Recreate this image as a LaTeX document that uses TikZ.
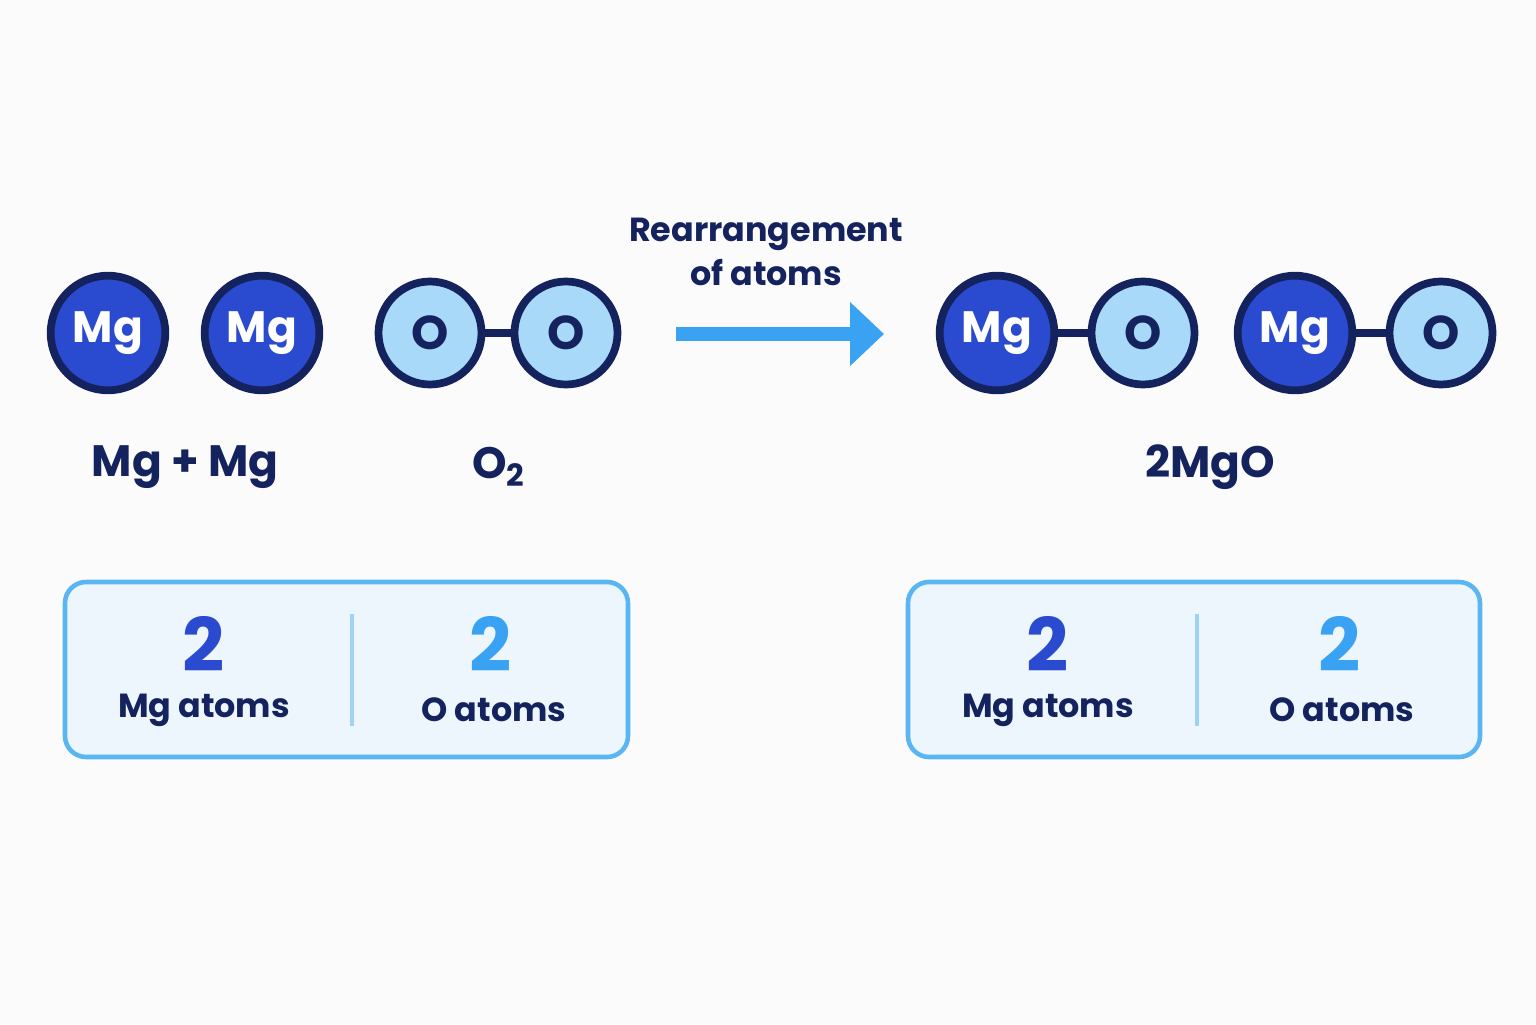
\documentclass[tikz,border=0pt]{standalone}
\usepackage{fontspec}
\setmainfont{Poppins}
\usetikzlibrary{arrows.meta}
\definecolor{mgfill}{HTML}{2A4BD0}
\definecolor{ink}{HTML}{14235E}
\definecolor{ofill}{HTML}{A9D9F8}
\definecolor{sky}{HTML}{3AA2F2}
\definecolor{boxfill}{HTML}{EEF6FD}
\definecolor{boxline}{HTML}{5AB6F2}
\tikzset{
mg/.style={shape=circle, draw=ink, line width=2.2pt, fill=mgfill, text=white, minimum size=1.14cm, font=\bfseries\fontsize{12.5}{12.5}\selectfont},
ox/.style={shape=circle, draw=ink, line width=2.2pt, fill=ofill, text=ink, minimum size=1.03cm, font=\bfseries\fontsize{13.5}{13.5}\selectfont},
bond/.style={ink, line width=2.2pt},
lbl/.style={text=ink, font=\bfseries\fontsize{12.5}{12.5}\selectfont},
tally/.style={draw=boxline, line width=1.3pt, fill=boxfill, rounded corners=6pt},
num/.style={font=\bfseries\fontsize{21}{21}\selectfont},
unit/.style={text=ink, font=\bfseries\fontsize{9.5}{9.5}\selectfont}
}
\begin{document}
\begin{tikzpicture}
    \fill[white!97!gray] (0,0) rectangle (15.36,10.24);
    \useasboundingbox (0,0) rectangle (15.36,10.24);

    % reactants
    \node[mg] (M1) at (1.08,6.91) {Mg};
    \node[mg] (M2) at (2.62,6.91) {Mg};
    \node[ox] (O1) at (4.30,6.91) {O};
    \node[ox] (O2) at (5.66,6.91) {O};
    \draw[bond] (O1) -- (O2);

    % products
    \node[mg] (P1) at (9.97,6.91) {Mg};
    \node[ox] (Q1) at (11.43,6.91) {O};
    \node[mg] (P2) at (12.95,6.91) {Mg};
    \node[ox] (Q2) at (14.41,6.91) {O};
    \draw[bond] (P1) -- (Q1);
    \draw[bond] (P2) -- (Q2);

    \coordinate (s) at (6.76,6.90);
    \coordinate (t) at (8.84,6.90);
    \draw[sky, line width=4pt, -{Triangle[length=0.34cm, width=0.62cm]}] (s) -- (t);
    \node[text=ink, font=\bfseries\fontsize{9.5}{12.5}\selectfont, align=center] (R) at (7.66,7.72) {Rearrangement\\of atoms};

    \node[lbl] (L1) at (1.85,5.57) {Mg + Mg};
    \node[lbl] (L2) at (4.99,5.57) {O\textsubscript{2}};
    \node[lbl] (L3) at (12.10,5.57) {2MgO};

    % tallies
    \draw[tally] (0.65,2.67) rectangle (6.28,4.42);
    \draw[boxline!60, line width=1pt] (3.52,2.98) -- (3.52,4.10);
    \node[num, text=mgfill] (A1) at (2.04,3.80) {2};
    \node[unit] (B1) at (2.04,3.14) {Mg atoms};
    \node[num, text=sky] (A2) at (4.91,3.80) {2};
    \node[unit] (B2) at (4.94,3.14) {O atoms};

    \draw[tally] (9.08,2.67) rectangle (14.80,4.42);
    \draw[boxline!60, line width=1pt] (11.97,2.98) -- (11.97,4.10);
    \node[num, text=mgfill] (A3) at (10.48,3.80) {2};
    \node[unit] (B3) at (10.48,3.14) {Mg atoms};
    \node[num, text=sky] (A4) at (13.40,3.80) {2};
    \node[unit] (B4) at (13.42,3.14) {O atoms};
\end{tikzpicture}
\end{document}
